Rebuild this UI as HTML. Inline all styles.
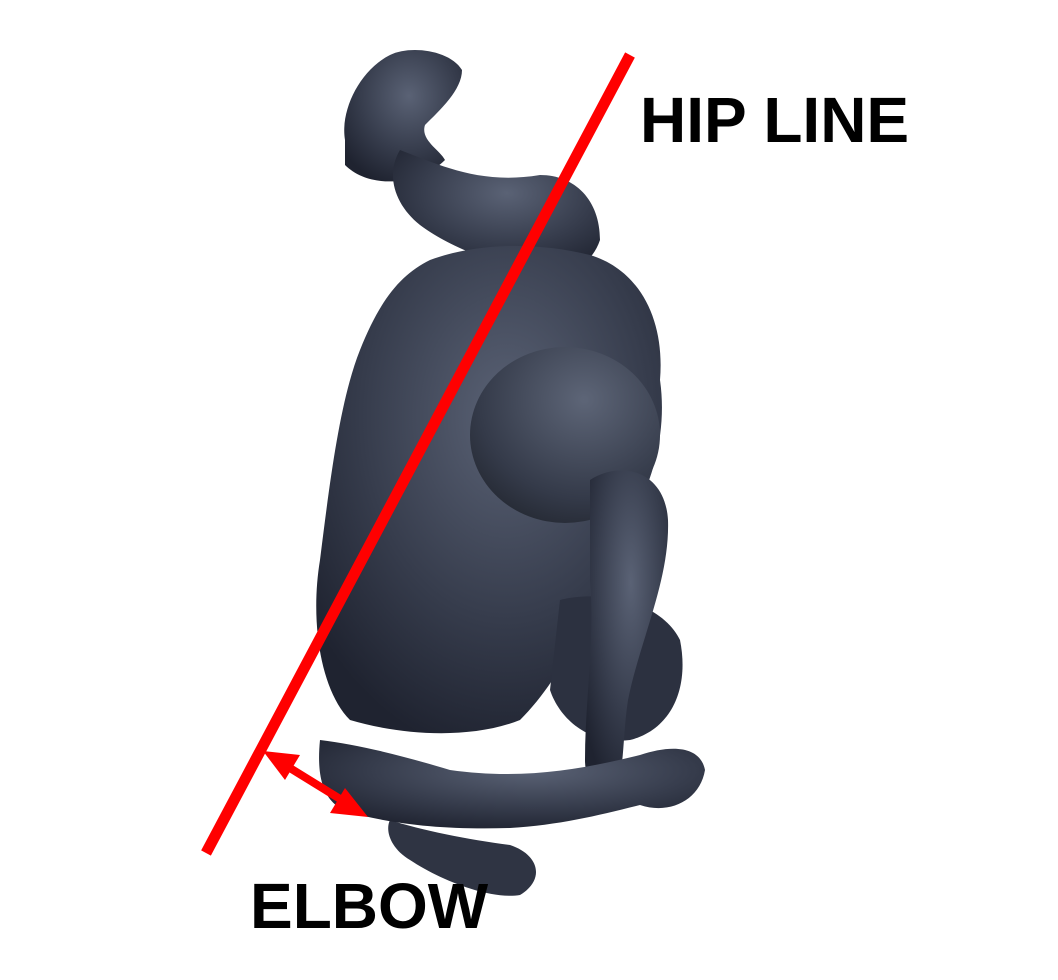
<!DOCTYPE html>
<html>
<head>
<meta charset="utf-8">
<style>
  html,body{margin:0;padding:0;background:#fff;}
  svg{display:block;}
  text{font-family:"Liberation Sans",Arial,sans-serif;font-weight:bold;}
</style>
</head>
<body>
<svg width="1058" height="980" viewBox="0 0 1058 980">
  <defs>
    <radialGradient id="skin" cx="0.55" cy="0.35" r="0.7">
      <stop offset="0" stop-color="#5a6275"/>
      <stop offset="0.6" stop-color="#363c4c"/>
      <stop offset="1" stop-color="#1f2330"/>
    </radialGradient>
    <radialGradient id="head" cx="0.6" cy="0.3" r="0.8">
      <stop offset="0" stop-color="#5d6577"/>
      <stop offset="0.7" stop-color="#343a49"/>
      <stop offset="1" stop-color="#22262f"/>
    </radialGradient>
  </defs>
  <g>
    <path d="M345 140 C340 110 360 70 390 55 C410 45 450 50 462 70 C462 90 440 110 425 125 C420 140 440 150 445 160 C420 185 370 190 345 165 Z" fill="url(#skin)"/>
    <path d="M400 150 C440 165 480 185 540 175 C575 175 600 200 600 240 C590 270 560 280 520 270 C470 255 440 240 420 225 C395 205 385 175 400 150 Z" fill="url(#skin)"/>
    <path d="M430 260 C470 245 530 240 590 255 C640 270 665 320 660 380 C670 450 640 520 600 560 C590 620 560 680 520 720 C470 740 400 735 350 720 C320 690 310 620 320 560 C330 480 340 400 360 350 C380 300 400 275 430 260 Z" fill="url(#skin)"/>
    <path d="M560 600 C600 590 660 600 680 640 C690 690 670 730 630 740 C590 745 560 720 550 690 Z" fill="#2c3140"/>
    <ellipse cx="565" cy="435" rx="95" ry="88" fill="url(#head)"/>
    <path d="M590 480 C620 460 665 470 668 520 C670 580 640 640 628 700 C622 740 625 770 615 790 C600 795 585 785 585 760 C585 700 595 640 590 580 Z" fill="url(#skin)"/>
    <path d="M390 820 C420 830 470 840 510 845 C540 855 545 880 520 895 C490 900 440 880 410 860 C390 848 385 830 390 820 Z" fill="#2f3443"/>
    <path d="M320 740 C360 745 400 755 450 770 C520 780 580 770 640 755 C670 745 700 745 705 770 C700 800 670 815 640 805 C600 815 560 825 510 828 C450 830 400 825 360 815 C330 810 315 790 320 740 Z" fill="url(#skin)"/>
  </g>
  <line x1="630" y1="55" x2="206" y2="853" stroke="#ff0000" stroke-width="11"/>
  <g fill="#ff0000">
    <line x1="285" y1="765" x2="345" y2="802" stroke="#ff0000" stroke-width="8"/>
    <polygon points="263,751 300,755 285,780"/>
    <polygon points="368,817 330,813 345,788"/>
  </g>
  <text x="640" y="142" font-size="64" fill="#000">HIP LINE</text>
  <text x="250" y="928" font-size="64" fill="#000">ELBOW</text>
</svg>
</body>
</html>
